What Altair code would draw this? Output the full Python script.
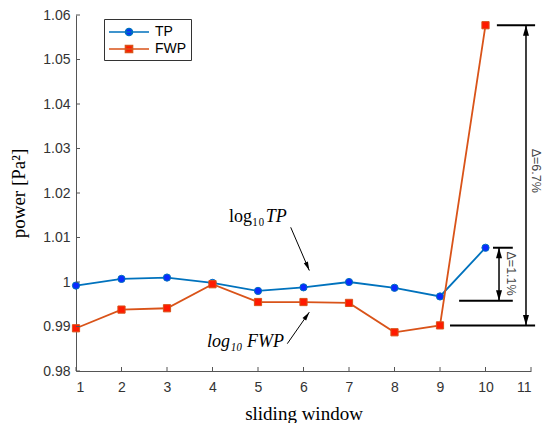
import altair as alt
import pandas as pd

# ---- data ----
windows = [1, 2, 3, 4, 5, 6, 7, 8, 9, 10]
tp = [0.9992, 1.0007, 1.0010, 0.9998, 0.9980, 0.9988, 1.0000, 0.9987, 0.99675, 1.0077]
fwp = [0.9896, 0.9938, 0.9941, 0.9995, 0.9955, 0.9955, 0.9953, 0.9887, 0.99025, 1.0577]
series_names = ["TP", "FWP"]
line_colors = ["#0072BD", "#D95319"]
marker_colors = ["#0a2bff", "#ff1a00"]

x_ticks = [1, 2, 3, 4, 5, 6, 7, 8, 9, 10, 11]
y_ticks = [0.98, 0.99, 1.00, 1.01, 1.02, 1.03, 1.04, 1.05, 1.06]

# annotation geometry in data units
bracket_x = [10.25, 9.22, 10.165, 9.42]
bracket_x2 = [11.09, 11.09, 10.60, 10.60]
bracket_y = [1.0577, 0.99025, 1.0077, 0.99579]
span_x = [10.89, 10.297]
span_top = [1.0577, 1.0077]
span_bottom = [0.99025, 0.99579]
span_text = ["\u0394=6.7%", "\u0394=1.1%"]
span_text_x = [11.1, 10.56]
span_text_y = [1.0250, 1.0019]
pointer_x = [5.719, 5.644]
pointer_y = [1.01229, 0.98614]
pointer_x2 = [6.128, 6.128]
pointer_y2 = [1.00258, 0.99323]
pointer_angle = [156.8, 34.8]

W, H = 455, 356

df = pd.DataFrame({
    "window": windows * 2,
    "power": tp + fwp,
    "series": ["TP"] * len(windows) + ["FWP"] * len(windows),
})

xs = alt.Scale(domain=[1, 11], nice=False, zero=False)
ys = alt.Scale(domain=[0.98, 1.06], nice=False, zero=False)

X = alt.X("window:Q", scale=xs, title="sliding window",
          axis=alt.Axis(values=x_ticks, format="d", grid=False, ticks=False, tickSize=0,
                        labelPadding=9, titlePadding=10))
Y = alt.Y("power:Q", scale=ys, title="power [Pa\u00b2]",
          axis=alt.Axis(values=y_ticks, labelExpr="format(datum.value, '.2~f')",
                        grid=False, ticks=False, tickSize=0, labelPadding=6, titlePadding=14))

base = alt.Chart(df).encode(x=X, y=Y)

layers = []
for name, lc, mc, shape in zip(series_names, line_colors, marker_colors, ["circle", "square"]):
    sub = base.transform_filter(alt.datum.series == name)
    layers.append(sub.mark_line(color=lc, strokeWidth=1.8))
    layers.append(sub.mark_point(shape=shape, filled=True, fill=mc, stroke=lc,
                                 strokeWidth=1, size=52, opacity=1))

# legend-only layer (no rows drawn)
tp_sym = "M-1,0H4M1.94,0A0.44,0.44,0,1,1,1.06,0A0.44,0.44,0,1,1,1.94,0Z"
fwp_sym = "M-1,0H4M1.06,-0.44H1.94V0.44H1.06Z"
leg = alt.Legend(title=None, orient="none", legendX=28, legendY=4, symbolSize=256,
                 labelOffset=29, symbolStrokeWidth=1.6, strokeColor="#333", fillColor="white",
                 padding=4, labelFont="Liberation Sans", labelFontSize=14, labelColor="#000",
                 rowPadding=1, symbolOpacity=1)
legend_layer = base.transform_filter("false").mark_point(filled=True).encode(
    fill=alt.Fill("series:N", scale=alt.Scale(domain=series_names, range=marker_colors), legend=leg, sort=series_names),
    stroke=alt.Stroke("series:N", scale=alt.Scale(domain=series_names, range=line_colors), legend=leg, sort=series_names),
    shape=alt.Shape("series:N", scale=alt.Scale(domain=series_names, range=[tp_sym, fwp_sym]), legend=leg, sort=series_names),
)
layers.append(legend_layer)

# inward ticks
xt = pd.DataFrame({"t": x_ticks})
yt = pd.DataFrame({"t": y_ticks})
layers.append(alt.Chart(xt).mark_rule(color="#555", strokeWidth=1).encode(
    x=alt.X("t:Q", scale=xs), y=alt.value(H), y2=alt.value(H - 4)))
layers.append(alt.Chart(yt).mark_rule(color="#555", strokeWidth=1).encode(
    y=alt.Y("t:Q", scale=ys), x=alt.value(0), x2=alt.value(4)))

# brackets
br = pd.DataFrame({"x": bracket_x, "x2": bracket_x2, "y": bracket_y})
layers.append(alt.Chart(br).mark_rule(color="#000", strokeWidth=2, clip=False).encode(
    x=alt.X("x:Q", scale=xs), x2="x2:Q", y=alt.Y("y:Q", scale=ys)))

sp = pd.DataFrame({"x": span_x, "top": span_top, "bottom": span_bottom,
                   "label": span_text, "tx": span_text_x, "ty": span_text_y})
layers.append(alt.Chart(sp).mark_rule(color="#000", strokeWidth=1.5, clip=False).encode(
    x=alt.X("x:Q", scale=xs), y=alt.Y("top:Q", scale=ys), y2="bottom:Q"))
up_head = "M0,0L0.75,2.6L-0.75,2.6Z"
down_head = "M0,0L0.75,-2.6L-0.75,-2.6Z"
layers.append(alt.Chart(sp).mark_point(shape=up_head, filled=True, color="#000", size=64, opacity=1).encode(
    x=alt.X("x:Q", scale=xs), y=alt.Y("top:Q", scale=ys)))
layers.append(alt.Chart(sp).mark_point(shape=down_head, filled=True, color="#000", size=64, opacity=1).encode(
    x=alt.X("x:Q", scale=xs), y=alt.Y("bottom:Q", scale=ys)))
layers.append(alt.Chart(sp).mark_text(angle=90, font="Liberation Sans", fontSize=12.5, color="#444",
                                      align="center", baseline="middle").encode(
    x=alt.X("tx:Q", scale=xs), y=alt.Y("ty:Q", scale=ys), text="label:N"))

# pointer arrows
pt = pd.DataFrame({"x": pointer_x, "y": pointer_y, "x2": pointer_x2, "y2": pointer_y2, "a": pointer_angle})
layers.append(alt.Chart(pt).mark_rule(color="#000", strokeWidth=1).encode(
    x=alt.X("x:Q", scale=xs), y=alt.Y("y:Q", scale=ys), x2="x2:Q", y2="y2:Q"))
layers.append(alt.Chart(pt).mark_point(shape="M0,0L0.55,2.2L-0.55,2.2Z", filled=True, color="#000",
                                       size=64, opacity=1).encode(
    x=alt.X("x2:Q", scale=xs), y=alt.Y("y2:Q", scale=ys), angle=alt.Angle("a:Q", scale=None)))

# labels for the series
lab_text = ["log\u2081\u2080", "TP", "log\u2081\u2080 FWP"]
lab_x = [4.363, 5.17, 3.879]
lab_y = [1.01454, 1.01454, 0.98650]
lab_style = ["normal", "italic", "italic"]
lb = pd.DataFrame({"text": lab_text, "x": lab_x, "y": lab_y, "style": lab_style})
for st in ["normal", "italic"]:
    layers.append(alt.Chart(lb).transform_filter(alt.datum.style == st).mark_text(
        font="Liberation Serif", fontSize=18, fontStyle=st, color="#000", align="left", baseline="middle").encode(
        x=alt.X("x:Q", scale=xs), y=alt.Y("y:Q", scale=ys), text="text:N"))

chart = alt.layer(*layers).properties(
    width=W, height=H,
    autosize=alt.AutoSizeParams(type="none"),
    padding={"left": 68, "top": 7, "right": 11, "bottom": 52},
).configure_view(stroke=None).configure_axis(
    domainColor="#555", domainWidth=1,
    labelFont="Liberation Sans", labelFontSize=14, labelColor="#333",
    titleFont="Liberation Serif", titleFontSize=19, titleFontWeight="normal", titleColor="#000",
)

chart.save("out.html", embed_options={"renderer": "svg", "actions": False})
